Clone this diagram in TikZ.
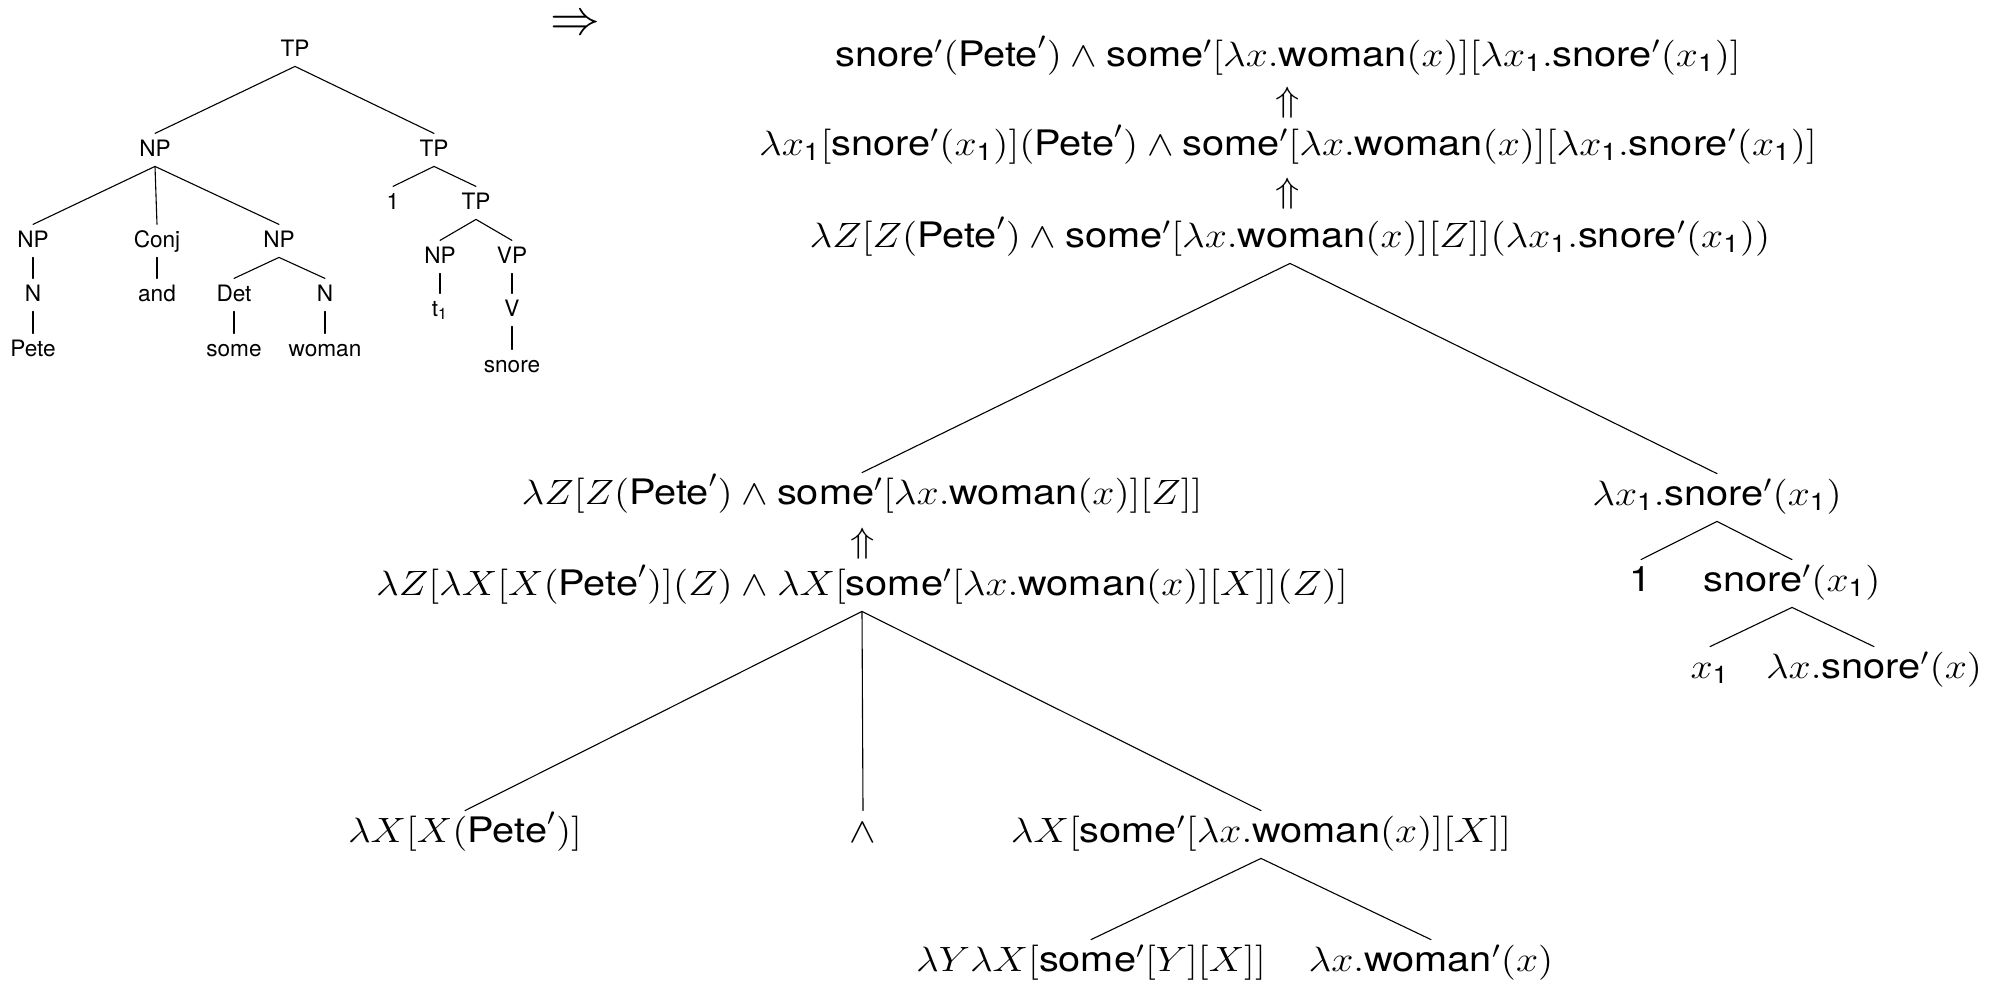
\documentclass[tikz,border=0pt]{standalone}
\usepackage{amsmath}
\usepackage{graphicx}
\usepackage{fontspec}
\setmainfont{TeX Gyre Heros}
\newcommand\ltfont{\fontsize{11.3}{13.5}\selectfont}
\newcommand\rtfont{\fontsize{14.4}{17}\selectfont}
\newcommand\rt[1]{\scalebox{1.38}[1.22]{$#1$}}
\newcommand\Tsnore{\text{snore}'}
\newcommand\Tpete{\text{Pete}'}
\newcommand\Tsome{\text{some}'}
\newcommand\Twoman{\text{woman}}
\newcommand\one{\text{1}}
\begin{document}
\begin{tikzpicture}[x=0.5pt,y=-0.5pt,
  lt/.style={font=\ltfont, text height=8.1pt, text depth=2pt, inner xsep=1pt, inner ysep=3pt, anchor=base},
  rt/.style={font=\rtfont, text height=11.8pt, text depth=4.3pt, inner xsep=1pt, inner ysep=3.7pt, anchor=base},
  edge/.style={line width=0.55pt, line cap=round}]
\useasboundingbox (0,0) rectangle (1996,981);
% ---------- left tree ----------
\node[lt] (tp0) at (295,56) {TP};
\node[lt] (np1) at (155,156) {NP};
\node[lt] (tp1) at (434,156) {TP};
\node[lt] (np2) at (33,247) {NP};
\node[lt] (conj) at (157,247) {Conj};
\node[lt] (np3) at (279,247) {NP};
\node[lt] (n1) at (33,301) {N};
\node[lt] (and) at (157,301) {and};
\node[lt] (det) at (234,301) {Det};
\node[lt] (n2) at (325,301) {N};
\node[lt] (pete) at (33,356) {Pete};
\node[lt] (some) at (234,356) {some};
\node[lt] (woman) at (325,356) {woman};
\node[lt] (one) at (393,209) {1};
\node[lt] (tp2) at (476,209) {TP};
\node[lt] (np4) at (440,263) {NP};
\node[lt] (vp) at (512,263) {VP};
\node[lt] (t1) at (440,316) {t\textsubscript{1}};
\node[lt] (v) at (512,316) {V};
\node[lt] (snore) at (512,372) {snore};
\draw[edge] (tp0.south) -- (np1.north);
\draw[edge] (tp0.south) -- (tp1.north);
\draw[edge] (np1.south) -- (np2.north);
\draw[edge] (np1.south) -- (conj.north);
\draw[edge] (np1.south) -- (np3.north);
\draw[edge] (np2.south) -- (n1.north);
\draw[edge] (n1.south) -- (pete.north);
\draw[edge] (conj.south) -- (and.north);
\draw[edge] (np3.south) -- (det.north);
\draw[edge] (np3.south) -- (n2.north);
\draw[edge] (det.south) -- (some.north);
\draw[edge] (n2.south) -- (woman.north);
\draw[edge] (tp1.south) -- (one.north);
\draw[edge] (tp1.south) -- (tp2.north);
\draw[edge] (tp2.south) -- (np4.north);
\draw[edge] (tp2.south) -- (vp.north);
\draw[edge] (np4.south) -- (t1.north);
\draw[edge] (vp.south) -- (v.north);
\draw[edge] (v.south) -- (snore.north);
% ---------- arrow ----------
\node[font=\fontsize{25}{28}\selectfont, inner sep=0pt] (arr) at (575,25) {$\Rightarrow$};
% ---------- right tree ----------
\node[rt] (l1) at (1288,66) {\rt{\Tsnore(\Tpete)\wedge\Tsome[\lambda x.\Twoman(x)][\lambda x_\one.\Tsnore(x_\one)]}};
\node[rt] (u1) at (1288,111) {\rt{\Uparrow}};
\node[rt] (l2) at (1288,155) {\rt{\lambda x_\one[\Tsnore(x_\one)](\Tpete)\wedge\Tsome[\lambda x.\Twoman(x)][\lambda x_\one.\Tsnore(x_\one)]}};
\node[rt] (u2) at (1288,202) {\rt{\Uparrow}};
\node[rt] (l3) at (1290,247) {\rt{\lambda Z[Z(\Tpete)\wedge\Tsome[\lambda x.\Twoman(x)][Z]](\lambda x_\one.\Tsnore(x_\one))}};
\node[rt] (a) at (862,504) {\rt{\lambda Z[Z(\Tpete)\wedge\Tsome[\lambda x.\Twoman(x)][Z]]}};
\node[rt] (u3) at (863,552) {\rt{\Uparrow}};
\node[rt] (b) at (862,595) {\rt{\lambda Z[\lambda X[X(\Tpete)](Z)\wedge\lambda X[\Tsome[\lambda x.\Twoman(x)][X]](Z)]}};
\node[rt] (c1) at (465,842) {\rt{\lambda X[X(\Tpete)]}};
\node[rt] (c2) at (863,842) {\rt{\wedge}};
\node[rt] (c3) at (1261,842) {\rt{\lambda X[\Tsome[\lambda x.\Twoman(x)][X]]}};
\node[rt] (d1) at (1091,971) {\rt{\lambda Y\lambda X[\Tsome[Y][X]]}};
\node[rt] (d2) at (1431,971) {\rt{\lambda x.\Twoman'(x)}};
\node[rt] (r) at (1717,505) {\rt{\lambda x_\one.\Tsnore(x_\one)}};
\node[rt] (r1) at (1641,591) {\rt{\text{1}}};
\node[rt] (r2) at (1792,591) {\rt{\Tsnore(x_\one)}};
\node[rt] (r21) at (1710,678) {\rt{x_\one}};
\node[rt] (r22) at (1874,678) {\rt{\lambda x.\Tsnore(x)}};
\draw[edge] (l3.south) -- (a.north);
\draw[edge] (l3.south) -- (r.north);
\draw[edge] (b.south) -- (c1.north);
\draw[edge] (b.south) -- (c2.north);
\draw[edge] (b.south) -- (c3.north);
\draw[edge] (c3.south) -- (d1.north);
\draw[edge] (c3.south) -- (d2.north);
\draw[edge] (r.south) -- (r1.north);
\draw[edge] (r.south) -- (r2.north);
\draw[edge] (r2.south) -- (r21.north);
\draw[edge] (r2.south) -- (r22.north);
\end{tikzpicture}
\end{document}
